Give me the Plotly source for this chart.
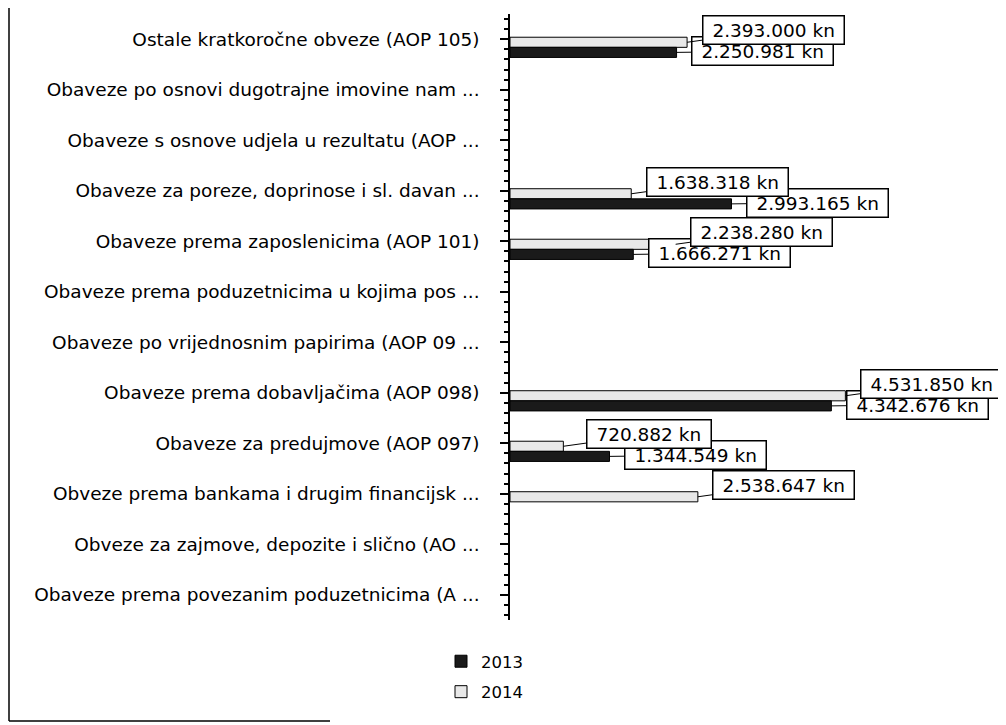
import plotly.graph_objects as go

categories = [
    "Ostale kratkoročne obveze (AOP 105)",
    "Obaveze po osnovi dugotrajne imovine nam ...",
    "Obaveze s osnove udjela u rezultatu (AOP ...",
    "Obaveze za poreze, doprinose i sl. davan ...",
    "Obaveze prema zaposlenicima (AOP 101)",
    "Obaveze prema poduzetnicima u kojima pos ...",
    "Obaveze po vrijednosnim papirima (AOP 09 ...",
    "Obaveze prema dobavljačima (AOP 098)",
    "Obaveze za predujmove (AOP 097)",
    "Obveze prema bankama i drugim financijsk ...",
    "Obveze za zajmove, depozite i slično (AO ...",
    "Obaveze prema povezanim poduzetnicima (A ...",
]
values_2013 = [2250981, None, None, 2993165, 1666271, None, None, 4342676, 1344549, None, None, None]
values_2014 = [2393000, None, None, 1638318, 2238280, None, None, 4531850, 720882, 2538647, None, None]

FONT = "DejaVu Sans"
OFF = 8  # page body margin
W, H = 1006 - OFF, 725 - OFF
ML, MR, MT, MB = 510 - OFF, 126, 14 - OFF, 105
PW, PH = W - ML - MR, H - MT - MB

positions = list(range(len(categories)))

def fmt(v):
    return "\u00a0" + f"{v:,}".replace(",", ".") + " kn" + "\u00a0"

fig = go.Figure()
fig.add_trace(go.Bar(
    y=positions, x=values_2014, orientation="h", name="2014",
    width=0.2, offset=-0.04, legendgroup="g2014",
    marker=dict(color="#e8e8e8", line=dict(color="#000000", width=1)),
    legendrank=2,
))
fig.add_trace(go.Bar(
    y=positions, x=values_2013, orientation="h", name="2013",
    width=0.2, offset=0.16, legendgroup="g2013",
    marker=dict(color="#1a1a1a", line=dict(color="#000000", width=1)),
    legendrank=1,
))

annotations = []
for series, yoff, ay in ((values_2013, 0.26, -1), (values_2014, 0.06, -12)):
    for i, v in enumerate(series):
        if v is None:
            continue
        annotations.append(dict(
            x=v, y=positions[i] + yoff, xref="x", yref="y",
            text=fmt(v), showarrow=True, arrowhead=0, arrowwidth=1,
            arrowcolor="#000000", ax=86, ay=ay,
            font=dict(family=FONT, size=18.5, color="#000000"),
            bgcolor="#ffffff", bordercolor="#000000", borderwidth=1.5, borderpad=3,
        ))

# helpers: page pixel -> paper coordinate
px_to_paper_x = lambda px: (px - OFF - ML) / PW
px_to_paper_y = lambda py: (H - MB - (py - OFF)) / PH
shapes = [
    dict(type="line", xref="paper", yref="paper",
         x0=px_to_paper_x(9), x1=px_to_paper_x(9),
         y0=px_to_paper_y(8), y1=px_to_paper_y(721),
         line=dict(color="#000000", width=1.5)),
    dict(type="line", xref="paper", yref="paper",
         x0=px_to_paper_x(9), x1=px_to_paper_x(330),
         y0=px_to_paper_y(721), y1=px_to_paper_y(721),
         line=dict(color="#000000", width=1.5)),
]

fig.update_layout(
    width=W, height=H,
    margin=dict(l=ML, r=MR, t=MT, b=MB, autoexpand=False),
    paper_bgcolor="#ffffff", plot_bgcolor="#ffffff",
    barmode="group",
    font=dict(family=FONT, size=18.5, color="#000000"),
    showlegend=True,
    legend=dict(orientation="v", x=px_to_paper_x(441), y=px_to_paper_y(644),
                xanchor="left", yanchor="top", bgcolor="rgba(0,0,0,0)",
                font=dict(family=FONT, size=16.5, color="#000000"),
                tracegroupgap=6, itemwidth=30),
    annotations=annotations,
    shapes=shapes,
)
fig.update_xaxes(range=[0, 5000000], showgrid=False, zeroline=False,
                 showticklabels=False, ticks="", showline=False)
fig.update_yaxes(type="linear", range=[len(categories) - 0.5, -0.5],
                 tickmode="array", tickvals=positions, ticktext=categories,
                 showgrid=False, zeroline=False,
                 showline=True, linecolor="#000000", linewidth=1.5,
                 ticks="outside", ticklen=8, tickcolor="#000000", tickwidth=1.5,
                 minor=dict(ticks="outside", ticklen=4, tickcolor="#000000",
                            tickwidth=1.5, dtick=0.2, tick0=0, showgrid=False),
                 ticklabelstandoff=17,
                 tickfont=dict(family=FONT, size=18.5, color="#000000"))

fig.write_html("out.html")
